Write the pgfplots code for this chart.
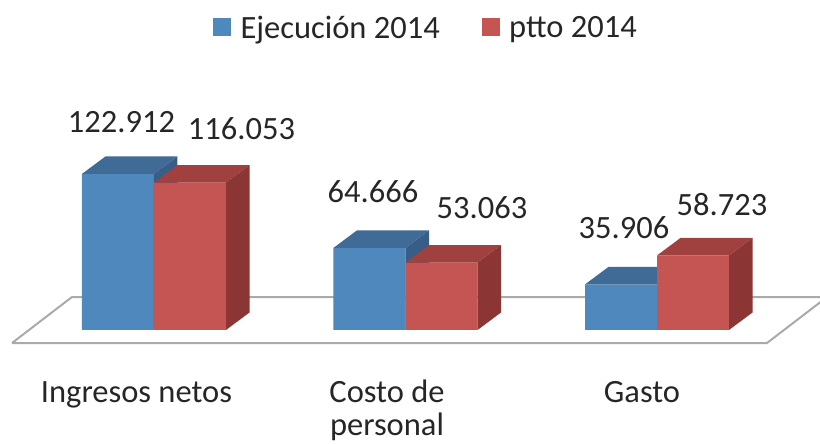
\documentclass[border=0pt]{standalone}
\usepackage{pgfplots}
\pgfplotsset{compat=1.18}
\usepackage{fontspec}
\setmainfont{Carlito}
\definecolor{blueF}{HTML}{4F88BD}
\definecolor{blueT}{HTML}{406B96}
\definecolor{blueS}{HTML}{385E87}
\definecolor{redF}{HTML}{C55553}
\definecolor{redT}{HTML}{A0413F}
\definecolor{redS}{HTML}{8B3635}
\definecolor{floorline}{HTML}{AAAAAA}
\definecolor{txt}{HTML}{262626}
% geometry (axis units)
\def\bw{0.2863}
\def\ddx{0.09344}
\def\ddy{13.78}
\newcommand\barfaces[4]{% #1 group x, #2 value, #3 left offset, #4 colour prefix
  \pgfmathsetmacro\xa{#1+#3}%
  \pgfmathsetmacro\xb{\xa+\bw}%
  \pgfmathsetmacro\xc{\xa+\ddx}%
  \pgfmathsetmacro\xd{\xb+\ddx}%
  \pgfmathsetmacro\yt{#2+\ddy}%
  \edef\tmp{\noexpand\addplot[fill=#4T, draw=none] coordinates {(\xa,#2) (\xc,\yt) (\xd,\yt) (\xb,#2)};
    \noexpand\addplot[fill=#4S, draw=none] coordinates {(\xb,#2) (\xd,\yt) (\xd,\ddy) (\xb,0)};}%
  \tmp}
\begin{document}
\begin{tikzpicture}
\begin{axis}[
  scale only axis, width=820pt, height=444pt,
  xmin=-0.6123, xmax=2.6481, ymin=-89.76, ymax=259.84,
  hide axis, clip=false,
  font=\fontsize{32.5}{39}\selectfont,
  legend style={at={(axis cs:1.0775,238.6)}, anchor=center, draw=none, fill=none,
    inner sep=0pt, font=\fontsize{32.5}{39}\selectfont, text=txt,
    nodes={inner sep=0pt, text depth=0pt},
    legend columns=2,
    /tikz/every odd column/.append style={column sep=10pt},
    /tikz/every even column/.append style={column sep=42pt}},
]
\addlegendimage{legend image code/.code={\fill[blueF] (0pt,-8pt) rectangle (17pt,9pt);}}
\addlegendentry{Ejecución 2014}
\addlegendimage{legend image code/.code={\fill[redF] (0pt,-8pt) rectangle (17pt,9pt);}}
\addlegendentry{ptto 2014}
% floor
\addplot[fill=white, draw=floorline, line width=2pt, line join=round] coordinates {(-0.5646,-10.24) (-0.3260,25.98) (2.6760,25.98) (2.4374,-10.24) (-0.5646,-10.24)};
% Ejecucion 2014
\addplot[ybar, bar width=\bw, bar shift=-0.14315, fill=blueF, draw=none] coordinates {(0,122.912) (1,64.666) (2,35.906)};
\barfaces{0}{122.912}{-0.2863}{blue}
\barfaces{1}{64.666}{-0.2863}{blue}
\barfaces{2}{35.906}{-0.2863}{blue}
% ptto 2014
\addplot[ybar, bar width=\bw, bar shift=0.14315, fill=redF, draw=none] coordinates {(0,116.053) (1,53.063) (2,58.723)};
\barfaces{0}{116.053}{0}{red}
\barfaces{1}{53.063}{0}{red}
\barfaces{2}{58.723}{0}{red}
% value labels
\node[text=txt] at (axis cs:-0.1292,163.78) {122.912};
\node[text=txt] at (axis cs:0.3479,158.27) {116.053};
\node[text=txt] at (axis cs:0.8708,108.66) {64.666};
\node[text=txt] at (axis cs:1.3042,96.06) {53.063};
\node[text=txt] at (axis cs:1.8688,80.31) {35.906};
\node[text=txt] at (axis cs:2.2584,98.43) {58.723};
% category labels
\node[text=txt, anchor=base, inner sep=0pt] at (axis cs:-0.0696,-57.48) {Ingresos netos};
\node[text=txt, anchor=base, inner sep=0pt] at (axis cs:0.9264,-57.48) {Costo de};
\node[text=txt, anchor=base, inner sep=0pt] at (axis cs:0.9264,-83.46) {personal};
\node[text=txt, anchor=base, inner sep=0pt] at (axis cs:1.9404,-57.48) {Gasto};
\end{axis}
\pgfresetboundingbox
\path (0,0) rectangle (820pt,444pt);
\end{tikzpicture}
\end{document}
